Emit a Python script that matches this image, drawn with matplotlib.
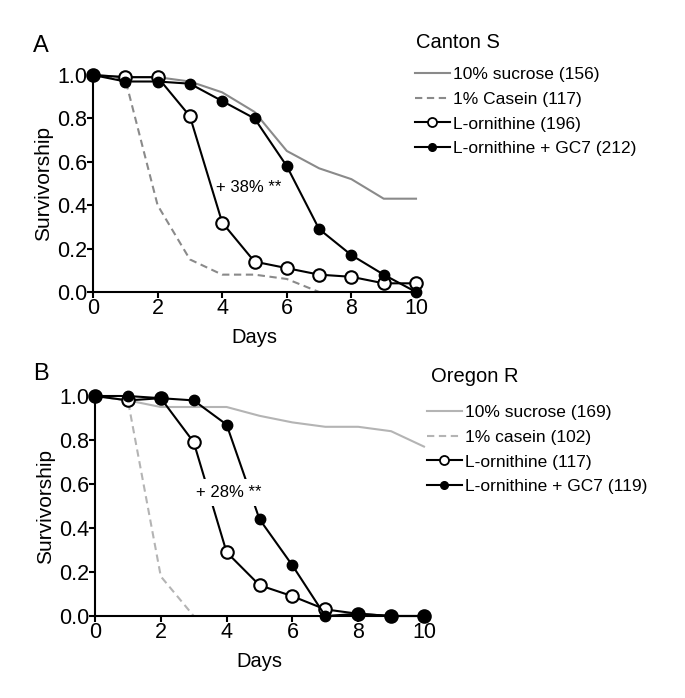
import matplotlib
matplotlib.use("Agg")
import matplotlib.pyplot as plt
from matplotlib.lines import Line2D

plt.rcParams['font.family'] = ['Liberation Sans', 'DejaVu Sans']

days = list(range(11))

# Panel A - Canton S
a_sucrose = [1.0, 0.99, 0.99, 0.97, 0.92, 0.83, 0.65, 0.57, 0.52, 0.43, 0.43]
a_casein_days = [0, 1, 2, 3, 4, 5, 6, 7]
a_casein = [1.0, 0.98, 0.40, 0.15, 0.08, 0.08, 0.06, 0.0]
a_orn = [1.0, 0.99, 0.99, 0.81, 0.32, 0.14, 0.11, 0.08, 0.07, 0.04, 0.04]
a_gc7 = [1.0, 0.97, 0.97, 0.96, 0.88, 0.80, 0.58, 0.29, 0.17, 0.08, 0.0]
a_labels = ["10% sucrose (156)", "1% Casein (117)", "L-ornithine (196)", "L-ornithine + GC7 (212)"]

# Panel B - Oregon R
b_sucrose = [1.0, 0.98, 0.95, 0.95, 0.95, 0.91, 0.88, 0.86, 0.86, 0.84, 0.77]
b_casein_days = [0, 1, 2, 3]
b_casein = [1.0, 0.98, 0.18, 0.0]
b_orn = [1.0, 0.98, 0.99, 0.79, 0.29, 0.14, 0.09, 0.03, 0.01, 0.0, 0.0]
b_gc7 = [1.0, 1.0, 0.99, 0.98, 0.87, 0.44, 0.23, 0.0, 0.01, 0.0, 0.0]
b_labels = ["10% sucrose (169)", "1% casein (102)", "L-ornithine (117)", "L-ornithine + GC7 (119)"]

W, H = 685, 698
fig = plt.figure(figsize=(W / 100, H / 100), dpi=100)
axA = fig.add_axes([93 / W, 1 - 292 / H, 323 / W, 217 / H])
axB = fig.add_axes([95 / W, 1 - 616 / H, 329 / W, 220 / H])


def draw(ax, sucrose, cdays, casein, orn, gc7, labels, grey, title, title_xy,
         leg_xy, letter, letter_xy, annot, annot_xy, annot_box):
    dash = (0, (3.5, 2.2))
    ax.plot(days, sucrose, color=grey, lw=1.5, clip_on=False)
    ax.plot(cdays, casein, color=grey, lw=1.5, ls=dash, clip_on=False)
    ax.plot(days, orn, color='black', lw=1.5, marker='o', ms=9, mfc='white',
            mec='black', mew=1.5, clip_on=False, zorder=3)
    ax.plot(days, gc7, color='black', lw=1.5, marker='o', ms=7.5, mfc='black',
            mec='black', clip_on=False, zorder=4)
    ax.set_xlim(0, 10)
    ax.set_ylim(0, 1.0)
    ax.set_xticks(range(0, 11, 2))
    ax.set_yticks([0.0, 0.2, 0.4, 0.6, 0.8, 1.0])
    ax.set_yticklabels(["0.0", "0.2", "0.4", "0.6", "0.8", "1.0"])
    for s in ['top', 'right']:
        ax.spines[s].set_visible(False)
    for s in ['left', 'bottom']:
        ax.spines[s].set_linewidth(1.5)
    ax.tick_params(axis='both', labelsize=15.5, width=1.5, length=4, direction='out')
    ax.tick_params(axis='y', pad=0)
    ax.tick_params(axis='x', pad=0.5)
    ax.set_xlabel("Days", fontsize=14.5, labelpad=6)
    ax.set_ylabel("Survivorship", fontsize=15, labelpad=3)
    bbox = dict(boxstyle='square,pad=0.35', fc='white', ec='none') if annot_box else None
    ax.text(annot_xy[0], annot_xy[1], annot, fontsize=12, ha='center', va='center',
            bbox=bbox, zorder=5)
    fig.text(letter_xy[0] / W, 1 - letter_xy[1] / H, letter, fontsize=17,
             ha='left', va='center')
    fig.text(title_xy[0] / W, 1 - title_xy[1] / H, title, fontsize=14.5,
             ha='left', va='center')
    handles = [
        Line2D([], [], color=grey, lw=1.5),
        Line2D([], [], color=grey, lw=1.5, ls=dash),
        Line2D([], [], color='black', lw=1.5, marker='o', ms=6.5, mfc='white', mec='black', mew=1.3),
        Line2D([], [], color='black', lw=1.5, marker='o', ms=5.5, mfc='black', mec='black'),
    ]
    ax.legend(handles, labels, loc='upper left',
              bbox_to_anchor=(leg_xy[0] / W, 1 - leg_xy[1] / H),
              bbox_transform=fig.transFigure,
              frameon=False, fontsize=12.5, handlelength=2.0, handletextpad=0.2,
              labelspacing=0.55, borderpad=0, borderaxespad=0)


draw(axA, a_sucrose, a_casein_days, a_casein, a_orn, a_gc7, a_labels, '#8a8a8a',
     "Canton S", (416, 42), (415, 67), "A", (33, 46), "+ 38% **", (4.83, 0.48), False)
draw(axB, b_sucrose, b_casein_days, b_casein, b_orn, b_gc7, b_labels, '#b4b4b4',
     "Oregon R", (431, 376), (427, 405), "B", (33, 374), "+ 28% **", (4.07, 0.56), True)

fig.savefig("out.png", dpi=100)
